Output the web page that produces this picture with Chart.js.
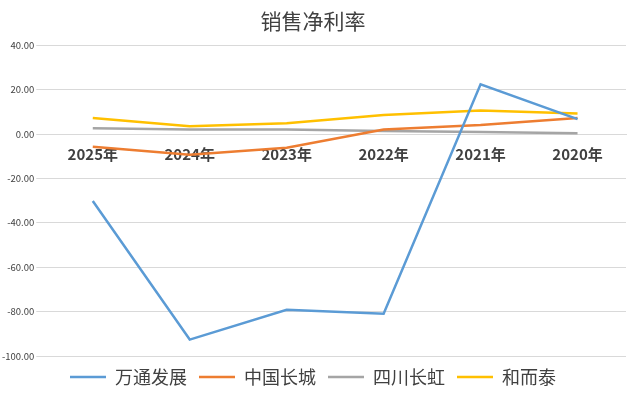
<!DOCTYPE html>
<html><head><meta charset="utf-8">
<script src="https://cdn.jsdelivr.net/npm/chart.js@4/dist/chart.umd.min.js"></script>
<style>html,body{margin:0;background:#fff}#wrap{width:640px;height:404px}</style>
</head><body><div id="wrap"><canvas id="c"></canvas></div>
<script>
// ---- DATA ----
const years = ['2025年','2024年','2023年','2022年','2021年','2020年'];
const wantong = [-30.2,-92.6,-79.2,-81.0,22.4,6.7];
const greatWall = [-5.7,-9.4,-6.2,2.0,4.0,7.2];
const changhong = [2.6,2.0,2.0,1.4,0.9,0.3];
const heertai = [7.2,3.5,4.8,8.6,10.6,9.2];

const font = "'Noto Sans CJK SC','Noto Sans',sans-serif";
const mk = (label,data,color)=>({label,data,borderColor:color,backgroundColor:color,borderWidth:2.5,pointRadius:0,tension:0});

new Chart(document.getElementById('c'),{
  type:'line',
  data:{labels:years,datasets:[
    mk('万通发展',wantong,'#5b9bd5'),
    mk('中国长城',greatWall,'#ed7d31'),
    mk('四川长虹',changhong,'#a5a5a5'),
    mk('和而泰',heertai,'#ffc000')
  ]},
  options:{
    responsive:true,maintainAspectRatio:false,animation:false,
    layout:{padding:{left:0,right:14,top:6,bottom:8}},
    plugins:{
      title:{display:true,text:'销售净利率',color:'#404040',font:{family:font,size:21,weight:'normal'},padding:{top:2,bottom:12}},
      legend:{position:'bottom',labels:{color:'#404040',font:{family:font,size:18},boxWidth:36,boxHeight:0,padding:12}}
    },
    scales:{
      x:{position:{y:0},offset:true,grid:{display:false},border:{color:'#d9d9d9'},
         ticks:{color:'#404040',font:{family:font,size:15,weight:'bold'}}},
      y:{min:-100,max:40,grid:{color:'#d9d9d9'},border:{display:false},
         ticks:{stepSize:20,color:'#404040',font:{family:font,size:9.5},padding:2,callback:v=>v.toFixed(2)}}
    }
  }
});
</script></body></html>
